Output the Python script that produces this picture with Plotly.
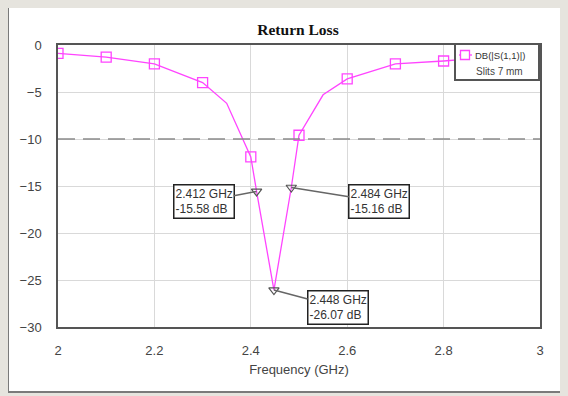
import plotly.graph_objects as go

# Data
freq = [2.0, 2.1, 2.2, 2.3, 2.35, 2.4, 2.412, 2.448, 2.484, 2.5, 2.55, 2.6, 2.7, 2.8, 2.9, 3.0]
s11_db = [-0.9, -1.3, -2.0, -4.0, -6.2, -11.9, -15.58, -26.07, -15.16, -9.6, -5.3, -3.6, -2.0, -1.7, -1.3, -0.9]
marker_freq = [2.0, 2.1, 2.2, 2.3, 2.4, 2.5, 2.6, 2.7, 2.8, 2.9, 3.0]
marker_db = [-0.9, -1.3, -2.0, -4.0, -11.9, -9.6, -3.6, -2.0, -1.7, -1.3, -0.9]
mk_freq = [2.412, 2.448, 2.484]
mk_db = [-15.58, -26.07, -15.16]
mk_labels = ["2.412 GHz<br>-15.58 dB", "2.448 GHz<br>-26.07 dB", "2.484 GHz<br>-15.16 dB"]
mk_offsets = [(-53, 10), (64, 17), (88, 14)]
threshold = -10
xticks = [2, 2.2, 2.4, 2.6, 2.8, 3]
xticklabels = ["2", "2.2", "2.4", "2.6", "2.8", "3"]
yticks = [0, -5, -10, -15, -20, -25, -30]
legend_lines = ["DB(|S(1,1)|)", "Slits 7 mm"]

MAG = "#FF44FF"
BG = "#E6E4DE"
FONT = "Liberation Sans, Arial"

fig = go.Figure()
fig.add_trace(go.Scatter(x=freq, y=s11_db, mode="lines",
                         line=dict(color=MAG, width=1.3), showlegend=False, hoverinfo="skip"))
fig.add_trace(go.Scatter(x=marker_freq, y=marker_db, mode="markers",
                         marker=dict(symbol="square-open", size=10, color=MAG, line=dict(width=1.3)),
                         showlegend=False))
fig.add_trace(go.Scatter(x=mk_freq, y=mk_db, mode="markers",
                         marker=dict(symbol="triangle-down-open", size=9, color="#555555", line=dict(width=1.2)),
                         showlegend=False))

# Page has an 8px body margin: window coords = div coords + 8
OFF = 8
W, H = 568, 396
L, T = 58 - OFF, 45 - OFF
pw, ph = 482, 282
R = W - L - pw
B = H - T - ph
def px(x): return (x - OFF - L) / pw
def py(y): return (T + ph - (y - OFF)) / ph

shapes = [
    dict(type="rect", xref="paper", yref="paper", x0=px(8), x1=px(590), y0=py(392), y1=py(5),
         fillcolor="white", line=dict(color="#7a7a7a", width=2), layer="below"),
    dict(type="line", xref="paper", yref="y", x0=0, x1=1, y0=threshold, y1=threshold,
         line=dict(color="#8a8a8a", width=1.6, dash="17px,8px")),
    # legend box
    dict(type="rect", xref="paper", yref="paper", x0=px(455), x1=px(539), y0=py(80), y1=py(44),
         fillcolor="white", line=dict(color="#555555", width=2), layer="above"),
    dict(type="line", xref="paper", yref="paper", x0=px(459), x1=px(472), y0=py(55), y1=py(55),
         line=dict(color=MAG, width=1.3)),
    dict(type="rect", xref="paper", yref="paper", x0=px(460.5), x1=px(469.5), y0=py(59.5), y1=py(50.5),
         fillcolor="white", line=dict(color=MAG, width=1.3)),
]

annotations = []
for f, d, t, (ax, ay) in zip(mk_freq, mk_db, mk_labels, mk_offsets):
    annotations.append(dict(x=f, y=d, xref="x", yref="y", text=t, showarrow=True,
                            ax=ax, ay=ay, arrowhead=0, arrowwidth=1.5, arrowcolor="#666666",
                            align="left", bgcolor="white", bordercolor="#222222", borderwidth=1.5,
                            borderpad=1, font=dict(family=FONT, size=12, color="#333333")))
annotations.append(dict(xref="paper", yref="paper", x=px(500), y=py(55), text=legend_lines[0],
                        showarrow=False, xanchor="center", yanchor="middle",
                        font=dict(family=FONT, size=9.5, color="#333333")))
annotations.append(dict(xref="paper", yref="paper", x=px(499), y=py(71), text=legend_lines[1],
                        showarrow=False, xanchor="center", yanchor="middle",
                        font=dict(family=FONT, size=10, color="#444444")))

fig.update_layout(
    width=W, height=H,
    margin=dict(l=L, r=R, t=T, b=B, autoexpand=False),
    paper_bgcolor=BG,
    plot_bgcolor="white",
    title=dict(text="<b>Return Loss</b>", xref="paper", x=px(298), xanchor="center",
               yref="container", y=1 - (30 - OFF) / H, yanchor="middle",
               font=dict(family="Liberation Serif, Times New Roman", size=15.5, color="#111111")),
    xaxis=dict(range=[2, 3], tickvals=xticks, ticktext=xticklabels, showgrid=True, gridcolor="#D9D9D9",
               gridwidth=1.2, zeroline=False, showline=True, linecolor="#555555", linewidth=1.5, mirror=True,
               ticks="", ticklabelstandoff=11,
               tickfont=dict(family=FONT, size=13, color="#444444"),
               title=dict(text="Frequency (GHz)", standoff=8,
                          font=dict(family=FONT, size=13, color="#444444"))),
    yaxis=dict(range=[-30, 0], tickvals=yticks, showgrid=True, gridcolor="#D9D9D9", gridwidth=1.2,
               zeroline=False, showline=True, linecolor="#555555", linewidth=1.5, mirror=True,
               ticks="", ticklabelstandoff=12,
               tickfont=dict(family=FONT, size=13, color="#444444")),
    showlegend=False,
    shapes=shapes,
    annotations=annotations,
)

fig.write_html("out.html", post_script="document.body.style.background='%s';" % BG)
